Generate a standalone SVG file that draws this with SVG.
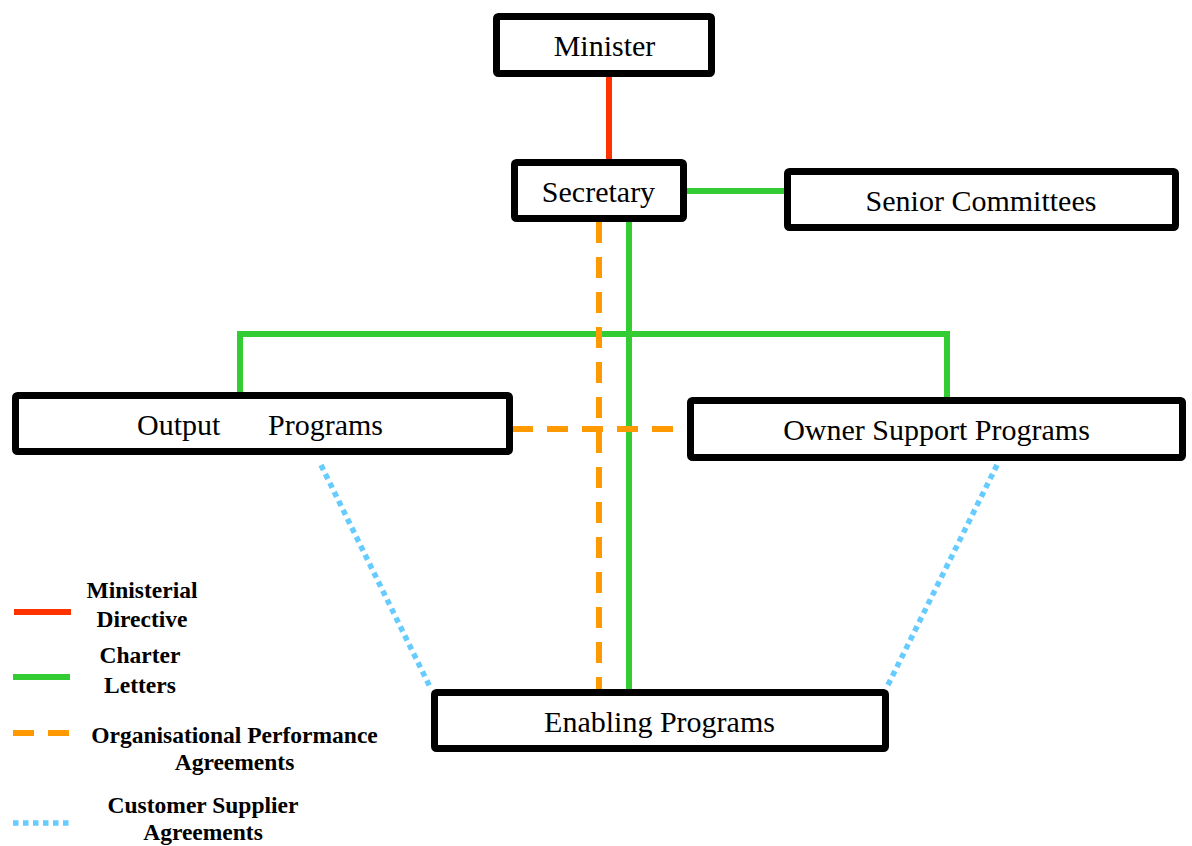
<svg xmlns="http://www.w3.org/2000/svg" width="1192" height="846" viewBox="0 0 1192 846">
  <style>
    .box { fill: #ffffff; stroke: #000000; stroke-width: 7; }
    .label { font-family: "Liberation Serif", "Times New Roman", serif; font-size: 30px; fill: #000000; text-anchor: middle; }
    .legend { font-family: "Liberation Serif", "Times New Roman", serif; font-size: 23.5px; font-weight: bold; fill: #000000; text-anchor: middle; }
    .directive { stroke: #ff3300; stroke-width: 6; fill: none; }
    .charter { stroke: #33cc33; stroke-width: 6; fill: none; }
    .opa { stroke: #ff9900; stroke-width: 6; fill: none; stroke-dasharray: 21 14; }
    .csa { stroke: #66ccff; stroke-width: 5.5; fill: none; stroke-dasharray: 5.5 4.5; }
  </style>

  <!-- relationships between the organisational units -->
  <g id="connectors">
    <line class="directive" x1="609" y1="70" x2="609" y2="162"/>
    <line class="charter" x1="684" y1="191" x2="788" y2="191"/>
    <line class="charter" x1="629" y1="219" x2="629" y2="693"/>
    <polyline class="charter" points="240,396 240,334 947,334 947,401"/>
    <line class="opa" x1="599" y1="222" x2="599" y2="690"/>
    <line class="opa" x1="512" y1="429" x2="688" y2="429"/>
    <line class="csa" x1="321" y1="465" x2="431" y2="689"/>
    <line class="csa" x1="997" y1="465" x2="886" y2="689"/>
  </g>

  <g id="minister">
    <rect class="box" x="496.5" y="16.5" width="215" height="57" rx="2"/>
    <text class="label" x="604.5" y="56">Minister</text>
  </g>

  <g id="secretary">
    <rect class="box" x="514.5" y="162.5" width="169" height="56" rx="2"/>
    <text class="label" x="598.5" y="202">Secretary</text>
  </g>

  <g id="senior-committees">
    <rect class="box" x="787.5" y="171.5" width="388" height="56" rx="2"/>
    <text class="label" x="981" y="211">Senior Committees</text>
  </g>

  <g id="output-programs">
    <rect class="box" x="15.5" y="395.5" width="494" height="56" rx="2"/>
    <text class="label" y="435" style="text-anchor:start"><tspan x="137">Output</tspan><tspan x="268">Programs</tspan></text>
  </g>

  <g id="owner-support-programs">
    <rect class="box" x="690.5" y="400.5" width="492" height="57" rx="2"/>
    <text class="label" x="936.5" y="440">Owner Support Programs</text>
  </g>

  <g id="enabling-programs">
    <rect class="box" x="434.5" y="692.5" width="451" height="56" rx="2"/>
    <text class="label" x="659.5" y="732">Enabling Programs</text>
  </g>

  <!-- key to the line styles -->
  <g id="legend">
    <line class="directive" x1="14" y1="612" x2="71" y2="612"/>
    <text class="legend" x="142" y="598">Ministerial</text>
    <text class="legend" x="142" y="627">Directive</text>

    <line class="charter" x1="13" y1="677" x2="70" y2="677"/>
    <text class="legend" x="140" y="663">Charter</text>
    <text class="legend" x="140" y="693">Letters</text>

    <line class="opa" x1="13" y1="733" x2="70" y2="733"/>
    <text class="legend" x="234.5" y="743">Organisational Performance</text>
    <text class="legend" x="234.5" y="770">Agreements</text>

    <line class="csa" x1="13" y1="823" x2="70" y2="823"/>
    <text class="legend" x="203" y="813">Customer Supplier</text>
    <text class="legend" x="203" y="840">Agreements</text>
  </g>
</svg>
